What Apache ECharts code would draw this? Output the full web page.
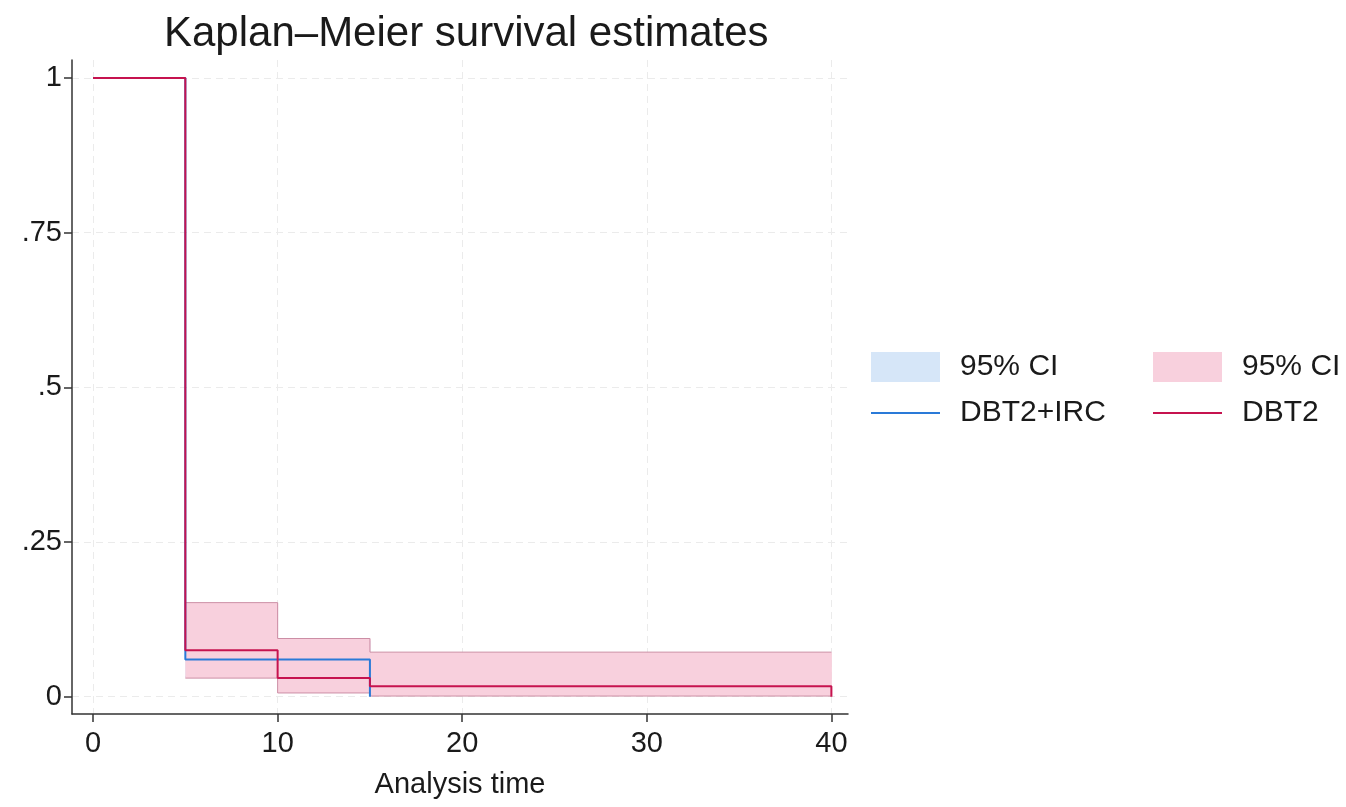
<!DOCTYPE html>
<html>
<head>
<meta charset="utf-8">
<script src="https://cdn.jsdelivr.net/npm/echarts@6/dist/echarts.min.js"></script>
<style>
html,body{margin:0;padding:0;background:#fff;}
#chart{width:1346px;height:807px;}
</style>
</head>
<body>
<div id="chart"></div>
<script>
// ---- data ----
const xTicks = [0, 10, 20, 30, 40];
const yTicks = [0, 0.25, 0.5, 0.75, 1];
const yTickLabels = ['0', '.25', '.5', '.75', '1'];

// Kaplan–Meier step curves: times and survival values
const ircTimes = [0, 5, 15];
const ircSurv  = [1, 0.06, 0];
const dbtTimes = [0, 5, 10, 15, 40];
const dbtSurv  = [1, 0.075, 0.030, 0.0167, 0];

// 95% confidence bands (value holds from each time to the next)
const ircCiTimes = [5, 15];
const ircCiLower = [0.032, 0.032];
const ircCiUpper = [0.090, 0.090];
const dbtCiTimes = [5, 10, 15, 40];
const dbtCiLower = [0.030, 0.006, 0.001, 0.001];
const dbtCiUpper = [0.152, 0.094, 0.072, 0.072];

const titleText = 'Kaplan–Meier survival estimates';
const xName = 'Analysis time';

// ---- colours ----
const BLUE = '#2a7ad8';
const RED = '#c6134f';
const BLUE_FILL = '#d6e6f8';
const PINK_FILL = '#f8d0dd';
const PINK_EDGE = '#cc8ea5';
const BLUE_EDGE = '#a9c3e6';
const GRID = '#ebebeb';
const FONT = 'Liberation Sans, Arial, Helvetica, sans-serif';

const pairs = (xs, ys) => xs.map((x, i) => [x, ys[i]]);

// band = filled rectangles per interval (custom series) + stepped edge lines
function bandSeries(id, xs, lo, hi, fill, edge, z) {
  const rects = [];
  for (let i = 0; i < xs.length - 1; i++) rects.push([xs[i], xs[i + 1], lo[i], hi[i]]);
  return [
    {
      name: id, type: 'custom', z: z, silent: true,
      itemStyle: { color: fill },
      encode: { x: [0, 1], y: [2, 3] },
      data: rects,
      renderItem: (params, api) => {
        const p0 = api.coord([api.value(0), api.value(3)]);
        const p1 = api.coord([api.value(1), api.value(2)]);
        return {
          type: 'rect',
          shape: { x: p0[0], y: p0[1], width: p1[0] - p0[0] + 0.5, height: p1[1] - p0[1] },
          style: { fill: fill }
        };
      }
    },
    {
      name: id + '_lo', type: 'line', step: 'end', symbol: 'none', silent: true, z: z,
      data: pairs(xs, lo), lineStyle: { color: edge, width: 1 }
    },
    {
      name: id + '_hi', type: 'line', step: 'end', symbol: 'none', silent: true, z: z,
      data: pairs(xs, hi), lineStyle: { color: edge, width: 1 }
    }
  ];
}

const lineIcon = 'path://M0,0 L0.01,0 M0,14 L69,14 L69,16 L0,16 Z M69,30 L69,29.99';
const legendText = { fontFamily: FONT, fontSize: 30, color: '#1a1a1a', padding: [0, 0, 0, 15] };

const chart = echarts.init(document.getElementById('chart'), null, { renderer: 'canvas' });
chart.setOption({
  animation: false,
  backgroundColor: '#ffffff',
  textStyle: { fontFamily: FONT },
  title: {
    text: titleText, left: 159, top: 8,
    textStyle: { fontFamily: FONT, fontSize: 42, fontWeight: 'normal', color: '#1a1a1a' }
  },
  grid: { left: 72, right: 498, top: 60, bottom: 93, containLabel: false },
  legend: [
    {
      orient: 'vertical', left: 871, top: 352, padding: 0, itemWidth: 69, itemHeight: 30, itemGap: 16,
      selectedMode: false, textStyle: legendText,
      formatter: n => n.startsWith('ci_') ? '95% CI' : n,
      data: [
        { name: 'ci_irc', icon: 'rect', itemStyle: { color: BLUE_FILL, borderWidth: 0 } },
        { name: 'DBT2+IRC', icon: lineIcon, itemStyle: { color: BLUE, borderWidth: 0 } }
      ]
    },
    {
      orient: 'vertical', left: 1153, top: 352, padding: 0, itemWidth: 69, itemHeight: 30, itemGap: 16,
      selectedMode: false, textStyle: legendText,
      formatter: n => n.startsWith('ci_') ? '95% CI' : n,
      data: [
        { name: 'ci_dbt2', icon: 'rect', itemStyle: { color: PINK_FILL, borderWidth: 0 } },
        { name: 'DBT2', icon: lineIcon, itemStyle: { color: RED, borderWidth: 0 } }
      ]
    }
  ],
  xAxis: {
    type: 'value', min: -1.14, max: 40.9,
    name: xName, nameLocation: 'middle', nameGap: 56,
    nameTextStyle: { fontFamily: FONT, fontSize: 29, color: '#1a1a1a' },
    axisLine: { onZero: false, lineStyle: { color: '#333', width: 1.5 } },
    axisTick: { show: true, length: 8, customValues: xTicks, lineStyle: { color: '#333', width: 1.5 } },
    axisLabel: { customValues: xTicks, margin: 15, fontFamily: FONT, fontSize: 29, color: '#1a1a1a' },
    splitLine: { show: true, lineStyle: { color: GRID, type: [7, 5], width: 1 } }
  },
  yAxis: {
    type: 'value', min: -0.028, max: 1.029,
    axisLine: { show: true, onZero: false, lineStyle: { color: '#333', width: 1.5 } },
    axisTick: { show: true, length: 8, customValues: yTicks, lineStyle: { color: '#333', width: 1.5 } },
    axisLabel: {
      customValues: yTicks, margin: 10, fontFamily: FONT, fontSize: 29, color: '#1a1a1a',
      formatter: v => { const i = yTicks.findIndex(t => Math.abs(t - v) < 1e-9); return i >= 0 ? yTickLabels[i] : ''; }
    },
    splitLine: { show: true, lineStyle: { color: GRID, type: [7, 5], width: 1 } }
  },
  series: [
    ...bandSeries('ci_irc', ircCiTimes, ircCiLower, ircCiUpper, BLUE_FILL, BLUE_EDGE, 1),
    ...bandSeries('ci_dbt2', dbtCiTimes, dbtCiLower, dbtCiUpper, PINK_FILL, PINK_EDGE, 2),
    {
      name: 'DBT2+IRC', type: 'line', step: 'end', symbol: 'none',
      data: pairs(ircTimes, ircSurv), lineStyle: { color: BLUE, width: 2 }, itemStyle: { color: BLUE }, z: 3
    },
    {
      name: 'DBT2', type: 'line', step: 'end', symbol: 'none',
      data: pairs(dbtTimes, dbtSurv), lineStyle: { color: RED, width: 2 }, itemStyle: { color: RED }, z: 4
    }
  ]
});
</script>
</body>
</html>
